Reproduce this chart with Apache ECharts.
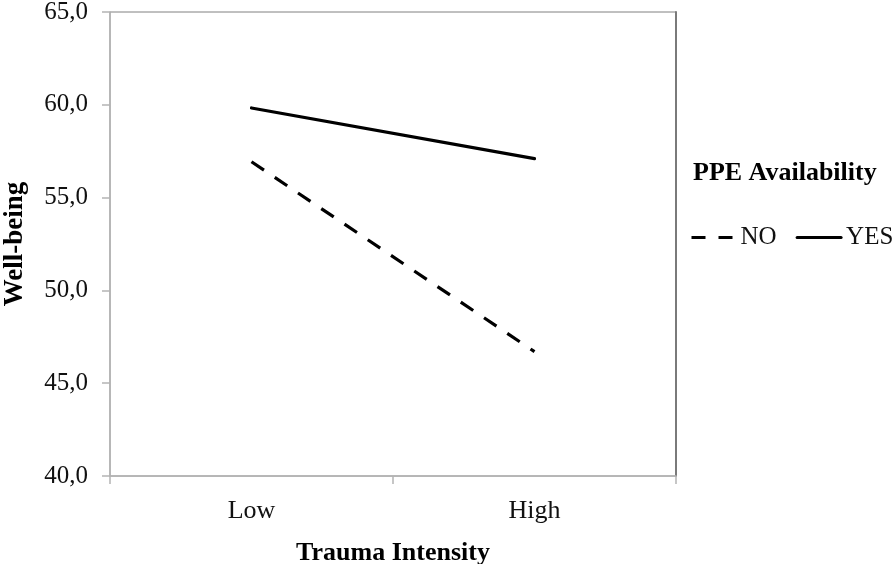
<!DOCTYPE html>
<html>
<head>
<meta charset="utf-8">
<script src="https://cdn.jsdelivr.net/npm/echarts@6/dist/echarts.min.js"></script>
<style>html,body{margin:0;padding:0;background:#fff;}#c{width:896px;height:564px;}</style>
</head>
<body>
<div id="c"></div>
<script>
const categories = ['Low', 'High'];
const seriesNames = ['NO', 'YES'];
const noValues = [56.93, 46.7];
const yesValues = [59.83, 57.1];
const yTicks = [40, 45, 50, 55, 60, 65];

const FONT = '"Liberation Serif", "Times New Roman", serif';
const chart = echarts.init(document.getElementById('c'), null, {renderer: 'canvas'});
chart.setOption({
  animation: false,
  backgroundColor: '#fff',
  title: {
    text: 'PPE Availability',
    left: 688, top: 155,
    textStyle: {fontFamily: FONT, fontWeight: 'bold', fontSize: 26, color: '#000'}
  },
  legend: {
    orient: 'horizontal',
    left: 685, top: 220, width: 210,
    itemWidth: 44, itemHeight: 14, itemGap: 19,
    textStyle: {fontFamily: FONT, fontSize: 25, color: '#111'},
    itemStyle: {opacity: 0},
    data: [
      {name: seriesNames[0], lineStyle: {type: [14, 13], width: 3, cap: 'butt', color: '#000'}},
      {name: seriesNames[1], lineStyle: {type: 'solid', width: 3, color: '#000'}}
    ]
  },
  grid: {left: 110, right: 220, top: 12, bottom: 88, show: true, borderColor: '#808080', borderWidth: 1,
    outerBoundsMode: 'none', containLabel: false},
  xAxis: {
    type: 'category',
    data: categories,
    boundaryGap: true,
    name: 'Trauma Intensity',
    nameLocation: 'middle',
    nameGap: 64,
    nameTextStyle: {fontFamily: FONT, fontWeight: 'bold', fontSize: 26, color: '#000'},
    axisLine: {lineStyle: {color: '#b4b4b4', width: 1.5}},
    axisTick: {show: true, length: 8, lineStyle: {color: '#b4b4b4', width: 1.5}},
    axisLabel: {fontFamily: FONT, fontSize: 26, color: '#111', margin: 22},
    splitLine: {show: false}
  },
  yAxis: [{
    type: 'value',
    min: yTicks[0], max: yTicks[yTicks.length - 1], interval: 5,
    name: 'Well-being',
    nameLocation: 'middle',
    nameGap: 81,
    nameTextStyle: {fontFamily: FONT, fontWeight: 'bold', fontSize: 27, color: '#000'},
    axisLine: {show: true, lineStyle: {color: '#b4b4b4', width: 1.5}},
    axisTick: {show: true, length: 8, lineStyle: {color: '#b4b4b4', width: 1.5}},
    axisLabel: {fontFamily: FONT, fontSize: 25, color: '#111', margin: 22,
      formatter: v => v.toFixed(1).replace('.', ',')},
    splitLine: {show: false}
  }, {
    type: 'value', position: 'right',
    min: yTicks[0], max: yTicks[yTicks.length - 1], interval: 5,
    axisLine: {show: true, lineStyle: {color: '#7a7a7a', width: 2}},
    axisTick: {show: false}, axisLabel: {show: false}, splitLine: {show: false}
  }],
  series: [
    {name: seriesNames[0], type: 'line', data: noValues, symbol: 'none',
      itemStyle: {color: '#000'},
      lineStyle: {color: '#000', width: 3.2, type: [15, 13], cap: 'butt'}},
    {name: seriesNames[1], type: 'line', data: yesValues, symbol: 'none',
      itemStyle: {color: '#000'},
      lineStyle: {color: '#000', width: 3.2, type: 'solid', cap: 'round'}}
  ]
});
</script>
</body>
</html>
